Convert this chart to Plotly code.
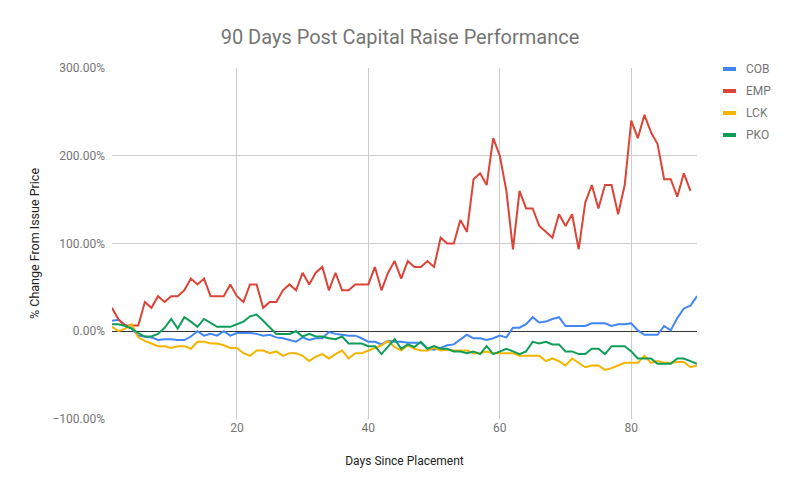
import plotly.graph_objects as go

days = list(range(1, 91))

cob = [12, 13, 7, 3, -5, -6, -7, -10, -9, -9,
       -10, -10, -6, 0, -5, -3, -5, 0, -5, -2,
       -2, -2, -3, -5, -4, -7, -8, -10, -12, -7,
       -10, -8, -8, -1, -3, -4, -5, -5, -8, -12,
       -12, -15, -11, -12, -12, -13, -13, -13, -20, -21,
       -19, -16, -15, -10, -4, -8, -8, -10, -8, -5,
       -7, 4, 4, 8, 16, 10, 11, 14, 16, 6,
       6, 6, 6, 9, 9, 9, 6, 8, 8, 9,
       1, -4, -4, -4, 6, 1, 15, 26, 29, 40]

emp = [26.67, 13.33, 6.67, 6.67, 6.67, 33.33, 26.67, 40, 33.33, 40,
       40, 46.67, 60, 53.33, 60, 40, 40, 40, 53.33, 40,
       33.33, 53.33, 53.33, 26.67, 33.33, 33.33, 46.67, 53.33, 46.67, 66.67,
       53.33, 66.67, 73.33, 46.67, 66.67, 46.67, 46.67, 53.33, 53.33, 53.33,
       73.33, 46.67, 66.67, 80, 60, 80, 73.33, 73.33, 80, 73.33,
       106.67, 100, 100, 126.67, 113.33, 173.33, 180, 166.67, 220, 200,
       160, 93.33, 160, 140, 140, 120, 113.33, 106.67, 133.33, 120,
       133.33, 93.33, 146.67, 166.67, 140, 166.67, 166.67, 133.33, 166.67, 240,
       220, 246.67, 226.67, 213.33, 173.33, 173.33, 153.33, 180, 160]

lck = [5, 0, 3, 8, -7, -11, -14, -17, -17, -19,
       -17, -17, -20, -12, -12, -14, -14, -16, -19, -19,
       -25, -28, -22, -22, -25, -23, -28, -25, -25, -28,
       -34, -29, -26, -31, -26, -22, -31, -25, -25, -22,
       -19, -16, -11, -18, -22, -16, -20, -22, -22, -19,
       -22, -21, -22, -22, -22, -25, -25, -23, -25, -25,
       -25, -25, -28, -28, -28, -28, -34, -31, -34, -39,
       -31, -36, -41, -39, -39, -44, -42, -39, -36, -36,
       -36, -28, -36, -34, -36, -36, -35, -35, -41, -39]

pko = [8, 8, 6, 3, -2, -6, -6, -3, 4, 14,
       3, 16, 11, 5, 14, 9, 5, 5, 5, 8,
       11, 17, 19, 12, 5, -3, -3, -3, 0, -6,
       -3, -6, -6, -8, -9, -6, -14, -14, -14, -17,
       -17, -26, -17, -9, -20, -15, -18, -12, -20, -17,
       -20, -20, -23, -23, -25, -23, -26, -17, -26, -23,
       -20, -23, -26, -23, -12, -14, -12, -15, -15, -23,
       -23, -26, -26, -20, -20, -26, -17, -17, -17, -23,
       -31, -31, -31, -37, -37, -37, -31, -31, -34, -37]

series_names = ["COB", "EMP", "LCK", "PKO"]
series_values = [cob, emp, lck, pko]
colors = ["#4285F4", "#DB4437", "#F4B400", "#0F9D58"]

y_ticks = [-100, 0, 100, 200, 300]
x_ticks = [20, 40, 60, 80]

fig = go.Figure()
for name, vals, col in zip(series_names, series_values, colors):
    fig.add_trace(go.Scatter(
        x=days[:len(vals)], y=[v / 100 for v in vals], mode="lines", name=name,
        line=dict(color=col, width=2), showlegend=False))

# page has an 8px body margin; target plot area in page pixels:
# left 112, right 697, top 68, bottom 419
PW, PH = 585.0, 351.0
def px(x):
    return (x - 112) / PW
def py(y):
    return (419 - y) / PH

shapes = []
annotations = []
leg_y = [69, 91, 113, 135]
for name, col, yy in zip(series_names, colors, leg_y):
    shapes.append(dict(type="rect", xref="paper", yref="paper",
                       x0=px(723), x1=px(736), y0=py(yy + 2), y1=py(yy - 2),
                       fillcolor=col, line=dict(width=0)))
    annotations.append(dict(xref="paper", yref="paper", x=px(744), y=py(yy),
                            text=name, showarrow=False, xanchor="left", yanchor="middle",
                            font=dict(family="Roboto, Arial", size=12, color="#757575")))

# page border on the right
shapes.append(dict(type="line", xref="paper", yref="paper",
                   x0=px(793), x1=px(793), y0=py(8), y1=py(495),
                   line=dict(color="#bdbdbd", width=1)))

fig.update_layout(
    width=799, height=495,
    margin=dict(l=104, r=110, t=60, b=84),
    paper_bgcolor="white", plot_bgcolor="white",
    font=dict(family="Roboto, Arial", color="#757575", size=12),
    title=dict(text="90 Days Post Capital Raise Performance",
               x=392 / 799, xref="container", xanchor="center",
               y=1 - 29 / 495, yanchor="middle",
               font=dict(family="Roboto, Arial", size=20, color="#757575")),
    xaxis=dict(range=[1, 90], tickvals=x_ticks, showgrid=True, gridcolor="#cccccc",
               gridwidth=1, zeroline=False, showline=False, ticks="",
               tickfont=dict(size=12, color="#757575"),
               title=dict(text="Days Since Placement", standoff=22,
                          font=dict(size=12, color="#222222"))),
    yaxis=dict(range=[-1.0, 3.0], tickvals=[v / 100 for v in y_ticks], tickformat=".2%",
               showgrid=True, gridcolor="#cccccc", gridwidth=1,
               zeroline=True, zerolinecolor="#333333", zerolinewidth=1,
               showline=False, ticks="", ticklabelstandoff=6,
               tickfont=dict(size=12, color="#757575"),
               title=dict(text="% Change From Issue Price", standoff=10,
                          font=dict(size=12.5, color="#222222"))),
    shapes=shapes,
    annotations=annotations,
    showlegend=False,
)

fig.write_html("out.html")
